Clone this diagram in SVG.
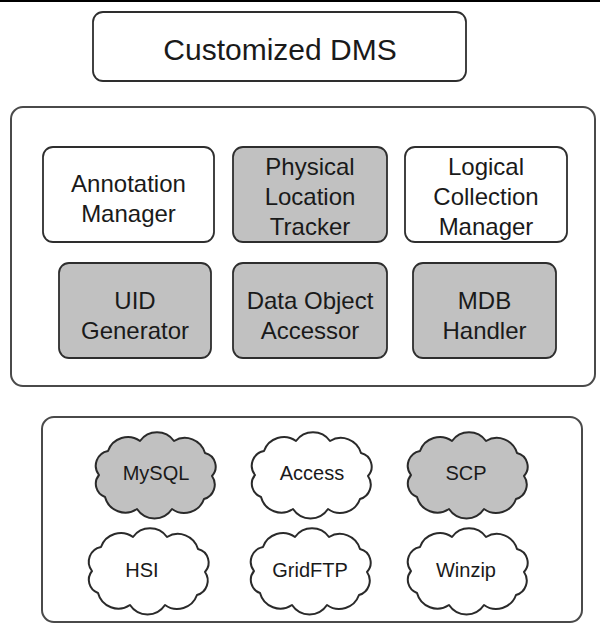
<svg xmlns="http://www.w3.org/2000/svg" xmlns:xlink="http://www.w3.org/1999/xlink" width="600" height="626" viewBox="0 0 600 626">
<style>
  text { font-family: "Liberation Sans", Arial, sans-serif; fill: #1a1a1a; text-anchor: middle; }
  .title { font-size: 30px; }
  .lbl { font-size: 24px; }
  .cl { font-size: 20px; }
  .container { fill: #ffffff; stroke: #4a4a4a; stroke-width: 2; }
  .box { fill: #ffffff; stroke: #2e2e2e; stroke-width: 1.8; }
  .gray { fill: #c1c1c1; }
  .cloud { stroke: #2a2a2a; stroke-width: 2; stroke-linejoin: round; }
  .cw { fill: #ffffff; }
</style>
<defs>
  <path id="cloudShape" d="M -56,1 A 15 15 0 0 1 -47,-23 A 21 21 0 0 1 -15,-33 A 21 21 0 0 1 19,-33 A 21 21 0 0 1 50,-21 A 14 14 0 0 1 57,2 A 15 15 0 0 1 49,25 A 21 21 0 0 1 17,35 A 21 21 0 0 1 -18,35 A 21 21 0 0 1 -50,23 A 14 14 0 0 1 -56,1 Z"/>
</defs>
<rect x="0" y="0" width="600" height="626" fill="#ffffff"/>
<rect x="0" y="0" width="600" height="2" fill="#000000"/>

<g id="customized-dms">
  <rect class="box" x="93" y="12" width="373" height="69" rx="10"/>
  <text class="title" x="280" y="60">Customized DMS</text>
</g>

<g id="middle-layer">
  <rect class="container" x="11" y="107" width="584" height="279" rx="12"/>
</g>

<g id="annotation-manager">
  <rect class="box" x="43" y="147" width="171" height="95" rx="10"/>
  <text class="lbl" x="128.5" y="192">Annotation</text>
  <text class="lbl" x="128.5" y="222">Manager</text>
</g>
<g id="physical-location-tracker">
  <rect class="box gray" x="233" y="147" width="154" height="95" rx="10"/>
  <text class="lbl" x="310" y="175">Physical</text>
  <text class="lbl" x="310" y="205">Location</text>
  <text class="lbl" x="310" y="235">Tracker</text>
</g>
<g id="logical-collection-manager">
  <rect class="box" x="405" y="147" width="162" height="95" rx="10"/>
  <text class="lbl" x="486" y="175">Logical</text>
  <text class="lbl" x="486" y="205">Collection</text>
  <text class="lbl" x="486" y="235">Manager</text>
</g>
<g id="uid-generator">
  <rect class="box gray" x="59" y="263" width="152" height="95" rx="10"/>
  <text class="lbl" x="135" y="309">UID</text>
  <text class="lbl" x="135" y="339">Generator</text>
</g>
<g id="data-object-accessor">
  <rect class="box gray" x="233" y="263" width="154" height="95" rx="10"/>
  <text class="lbl" x="310" y="309">Data Object</text>
  <text class="lbl" x="310" y="339">Accessor</text>
</g>
<g id="mdb-handler">
  <rect class="box gray" x="413" y="263" width="143" height="95" rx="10"/>
  <text class="lbl" x="484.5" y="309">MDB</text>
  <text class="lbl" x="484.5" y="339">Handler</text>
</g>

<g id="bottom-layer">
  <rect class="container" x="42" y="417" width="540" height="205" rx="12"/>
</g>

<g id="mysql">
  <use xlink:href="#cloudShape" href="#cloudShape" class="cloud gray" transform="translate(155,474)"/>
  <text class="cl" x="156" y="480">MySQL</text>
</g>
<g id="access">
  <use xlink:href="#cloudShape" href="#cloudShape" class="cloud cw" transform="translate(311,474)"/>
  <text class="cl" x="312" y="480">Access</text>
</g>
<g id="scp">
  <use xlink:href="#cloudShape" href="#cloudShape" class="cloud gray" transform="translate(467,474)"/>
  <text class="cl" x="466" y="480">SCP</text>
</g>
<g id="hsi">
  <use xlink:href="#cloudShape" href="#cloudShape" class="cloud cw" transform="translate(148,570)"/>
  <text class="cl" x="142" y="577">HSI</text>
</g>
<g id="gridftp">
  <use xlink:href="#cloudShape" href="#cloudShape" class="cloud cw" transform="translate(310,570)"/>
  <text class="cl" x="310" y="577">GridFTP</text>
</g>
<g id="winzip">
  <use xlink:href="#cloudShape" href="#cloudShape" class="cloud cw" transform="translate(467,570)"/>
  <text class="cl" x="466" y="577">Winzip</text>
</g>

<g id="connectors"></g>
</svg>
